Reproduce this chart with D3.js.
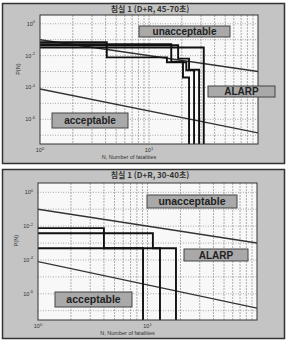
<!DOCTYPE html>
<html>
<head>
<meta charset="utf-8">
<script src="https://cdn.jsdelivr.net/npm/d3@7"></script>
<style>
  body { margin: 0; background: #fff; }
  svg text { font-family: "Liberation Sans", Arial, sans-serif; }
</style>
</head>
<body>
<svg width="287" height="341"></svg>
<script>
var svg = d3.select('svg');

// y ticks shown on both panels (exponents)
var yTickExp = [0, -2, -4, -6];
var xTickExp = [0, 1];

// criterion lines, [N, P]
var upperLine = [[1, 1e-1], [100, 1e-3]];
var lowerLine = [[1, Math.pow(10, -4.1)], [100, Math.pow(10, -6.85)]];

// step curves for panel 1 (45-70 s), [N, P] - stepAfter
var top1 = [[1, 0.069], [4.1, 0.0078], [14.6, 0.0038], [22, 0.0012], [25.9, 1e-9]];
var top2 = [[1, 0.045], [18.5, 0.0065], [23.3, 0.0013], [28.8, 1e-9]];
var top3 = [[1, 0.052], [16, 0.0042], [20.5, 0.00042], [23.3, 1e-9]];
var top4 = [[1, 0.032], [31.8, 1e-9]];

// step curves for panel 2 (30-40 s)
var bot1 = [[1, 0.0076], [4, 0.00049], [9.1, 1e-9]];
var bot2 = [[1, 0.0038], [11.2, 0.00049], [13, 1e-9]];
var bot3 = [[1, 0.00049], [18.2, 1e-9]];

var panels = [
  {title: "침실 1 (D+R, 45-70초)", y0: 3, h: 160, plot: {x: 40, y: 15, w: 218, h: 129},
   curves: [top1, top2, top3, top4],
   boxes: [{t: "unacceptable", x: 139, y: 26, w: 91, h: 11, fs: 10},
           {t: "ALARP", x: 208, y: 86, w: 67, h: 11, fs: 10},
           {t: "acceptable", x: 52, y: 113, w: 76, h: 15, fs: 10}]},
  {title: "침실 1 (D+R, 30-40초)", y0: 169, h: 169, plot: {x: 38, y: 183, w: 219, h: 137},
   curves: [bot1, bot2, bot3],
   boxes: [{t: "unacceptable", x: 147, y: 195, w: 90, h: 13, fs: 10.5},
           {t: "ALARP", x: 184, y: 249, w: 64, h: 12, fs: 10},
           {t: "acceptable", x: 55, y: 292, w: 77, h: 15, fs: 10.5}]}
];

var clipId = 0;
panels.forEach(function(p) {
  var g = svg.append('g');
  g.append('rect')
    .attr('x', 2.5).attr('y', p.y0 + 0.5)
    .attr('width', 282).attr('height', p.h)
    .attr('fill', '#c4c4c4').attr('stroke', '#333').attr('stroke-width', 1.5);

  g.append('text')
    .attr('x', 150).attr('y', p.y0 + 9)
    .attr('text-anchor', 'middle')
    .attr('font-size', 8).attr('font-weight', 'bold').attr('fill', '#333')
    .style('font-family', '"Noto Sans CJK KR", sans-serif')
    .text(p.title);

  var pl = p.plot;
  var x = d3.scaleLog().domain([1, 100]).range([pl.x, pl.x + pl.w]);
  var y = d3.scaleLog().domain([Math.pow(10, -7.55), Math.pow(10, 0.55)]).range([pl.y + pl.h, pl.y]);

  g.append('rect')
    .attr('x', pl.x).attr('y', pl.y).attr('width', pl.w).attr('height', pl.h)
    .attr('fill', '#f8f8f8');

  // vertical grid at minor ticks
  var xg = x.ticks().filter(function(d) { return d > 1 && d < 100; });
  g.selectAll('.vg').data(xg).enter().append('line')
    .attr('x1', x).attr('x2', x).attr('y1', pl.y).attr('y2', pl.y + pl.h)
    .attr('stroke', '#9a9a9a').attr('stroke-width', 0.8).attr('stroke-dasharray', '2,1');

  // horizontal grid each decade
  var yg = d3.range(-7, 1).map(function(e) { return Math.pow(10, e); });
  g.selectAll('.hg').data(yg).enter().append('line')
    .attr('x1', pl.x).attr('x2', pl.x + pl.w).attr('y1', y).attr('y2', y)
    .attr('stroke', '#888').attr('stroke-width', 0.7).attr('stroke-dasharray', '1,1.5');

  var cid = 'clip' + (clipId++);
  g.append('clipPath').attr('id', cid).append('rect')
    .attr('x', pl.x).attr('y', pl.y).attr('width', pl.w).attr('height', pl.h);
  var inner = g.append('g').attr('clip-path', 'url(#' + cid + ')');

  var line = d3.line().x(function(d) { return x(d[0]); }).y(function(d) { return y(d[1]); });
  [upperLine, lowerLine].forEach(function(l) {
    inner.append('path').attr('d', line(l))
      .attr('fill', 'none').attr('stroke', '#333').attr('stroke-width', 1.4);
  });

  var step = d3.line().curve(d3.curveStepAfter)
    .x(function(d) { return x(d[0]); }).y(function(d) { return y(d[1]); });
  p.curves.forEach(function(c) {
    inner.append('path').attr('d', step(c))
      .attr('fill', 'none').attr('stroke', '#111').attr('stroke-width', 1.9);
  });

  // frame
  g.append('rect')
    .attr('x', pl.x).attr('y', pl.y).attr('width', pl.w).attr('height', pl.h)
    .attr('fill', 'none').attr('stroke', '#333').attr('stroke-width', 1);

  // y tick labels
  yTickExp.forEach(function(e) {
    var t = g.append('text').attr('x', pl.x - 5).attr('y', y(Math.pow(10, e)) + 2)
      .attr('text-anchor', 'end').attr('font-size', 5.5).attr('fill', '#333');
    t.append('tspan').text('10');
    t.append('tspan').attr('dy', -2.5).attr('font-size', 4).text(e);
  });
  xTickExp.forEach(function(e) {
    var t = g.append('text').attr('x', x(Math.pow(10, e))).attr('y', pl.y + pl.h + 8)
      .attr('text-anchor', 'middle').attr('font-size', 5.5).attr('fill', '#333');
    t.append('tspan').text('10');
    t.append('tspan').attr('dy', -2.5).attr('font-size', 4).text(e);
  });

  g.append('text')
    .attr('x', pl.x + pl.w / 2 - 20).attr('y', pl.y + pl.h + 15)
    .attr('text-anchor', 'middle').attr('font-size', 5.5).attr('fill', '#333')
    .text('N, Number of fatalities');
  g.append('text')
    .attr('transform', 'translate(' + (pl.x - 20) + ',' + (pl.y + pl.h * 0.42) + ') rotate(-90)')
    .attr('text-anchor', 'middle').attr('font-size', 5.5).attr('fill', '#333')
    .text('P(N)');

  // region labels
  p.boxes.forEach(function(b) {
    g.append('rect').attr('x', b.x).attr('y', b.y).attr('width', b.w).attr('height', b.h)
      .attr('fill', '#a9a9a9').attr('stroke', '#444').attr('stroke-width', 1);
    g.append('text').attr('x', b.x + b.w / 2).attr('y', b.y + b.h / 2 + 3.5)
      .attr('text-anchor', 'middle').attr('font-size', b.fs).attr('font-weight', 'bold')
      .attr('fill', '#222').text(b.t);
  });
});
</script>
</body>
</html>
